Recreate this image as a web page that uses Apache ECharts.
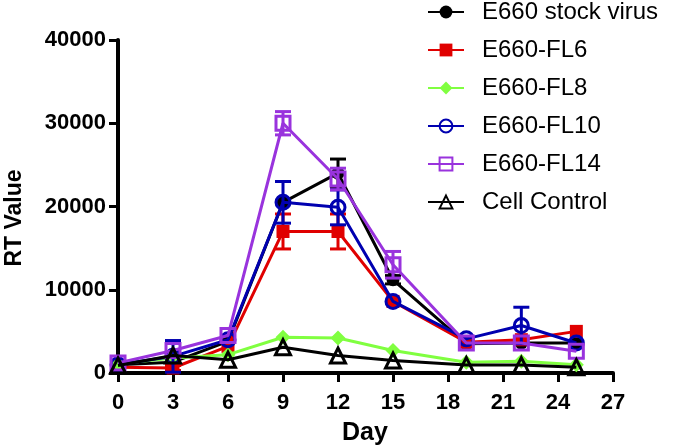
<!DOCTYPE html>
<html><head><meta charset="utf-8">
<script src="https://cdn.jsdelivr.net/npm/echarts@6/dist/echarts.min.js"></script>
<style>html,body{margin:0;padding:0;background:#fff}#c{width:680px;height:448px}</style>
</head><body><div id="c"></div>
<script>
var days = [0, 3, 6, 9, 12, 15, 19, 22, 25];
var xTicks = [0, 3, 6, 9, 12, 15, 18, 21, 24, 27];
var yTicks = [0, 10000, 20000, 30000, 40000];
var seriesNames = ['E660 stock virus', 'E660-FL6', 'E660-FL8', 'E660-FL10', 'E660-FL14', 'Cell Control'];
var stock = [1000, 1300, 3800, 20500, 24000, 11200, 3500, 3600, 3600];
var stockErr = [0, 0, 0, 0, 1700, 500, 0, 0, 0];
var fl6 = [700, 600, 3200, 17000, 17000, 8600, 3700, 4000, 5000];
var fl6Err = [0, 300, 0, 2100, 2100, 0, 0, 0, 0];
var fl8 = [1100, 1800, 2200, 4300, 4200, 2700, 1300, 1400, 1000];
var fl8Err = [0, 0, 0, 0, 0, 0, 0, 0, 0];
var fl10 = [1000, 2000, 4000, 20500, 19900, 8600, 4100, 5700, 3600];
var fl10Err = [0, 1900, 0, 2500, 2100, 0, 0, 2200, 0];
var fl14 = [1200, 2700, 4500, 30000, 23300, 13000, 3600, 3600, 2600];
var fl14Err = [0, 0, 0, 1400, 1300, 1600, 0, 0, 0];
var cell = [900, 2100, 1600, 3100, 2100, 1500, 950, 950, 700];
var cellErr = [0, 0, 0, 0, 0, 0, 0, 0, 0];

var values = [stock, fl6, fl8, fl10, fl14, cell];
var errs = [stockErr, fl6Err, fl8Err, fl10Err, fl14Err, cellErr];
var colors = ['#000000', '#e00000', '#80ff40', '#0000b0', '#9933dd', '#000000'];
var symbols = ['circle', 'rect', 'diamond', 'circle', 'rect', 'triangle'];
var symSizes = [13, 13, 15, 14, 14, 15];
var hollow = [false, false, false, true, true, true];

var series = [];
values.forEach(function (vals, i) {
  var eData = [];
  days.forEach(function (d, j) { if (errs[i][j] > 0) eData.push([d, vals[j], errs[i][j]]); });
  series.push({
    type: 'custom', name: seriesNames[i] + ' err', z: 2 + i,
    data: eData, silent: true,
    renderItem: function (params, api) {
      var x = api.value(0), y = api.value(1), e = api.value(2);
      var top = api.coord([x, y + e]), bot = api.coord([x, y - e]);
      var w = 8;
      var st = { stroke: colors[i], lineWidth: 3 };
      return { type: 'group', children: [
        { type: 'line', shape: { x1: top[0], y1: top[1], x2: bot[0], y2: bot[1] }, style: st },
        { type: 'line', shape: { x1: top[0] - w, y1: top[1], x2: top[0] + w, y2: top[1] }, style: st },
        { type: 'line', shape: { x1: bot[0] - w, y1: bot[1], x2: bot[0] + w, y2: bot[1] }, style: st }
      ]};
    }
  });
  series.push({
    type: 'line', name: seriesNames[i], z: 2 + i,
    data: days.map(function (d, j) { return [d, vals[j]]; }),
    symbol: symbols[i], symbolSize: symSizes[i], showAllSymbol: true,
    lineStyle: { color: colors[i], width: 3 },
    itemStyle: hollow[i] ? { color: 'rgba(255,255,255,0)', borderColor: colors[i], borderWidth: 3 } : { color: colors[i], borderColor: colors[i], borderWidth: 0 },
    emphasis: { disabled: true }, animation: false
  });
});

var tickFont = { fontFamily: 'Liberation Sans, Arial, sans-serif', fontWeight: 'bold', fontSize: 22, color: '#000' };
var chart = echarts.init(document.getElementById('c'), null, { renderer: 'canvas' });
chart.setOption({
  animation: false,
  backgroundColor: '#fff',
  grid: { left: 118, right: 67, top: 40, bottom: 75, containLabel: false },
  xAxis: {
    type: 'value', min: xTicks[0], max: xTicks[xTicks.length - 1], interval: 3,
    axisLine: { lineStyle: { color: '#000', width: 4 } },
    axisTick: { show: true, inside: false, length: 9, lineStyle: { color: '#000', width: 3 } },
    axisLabel: Object.assign({ margin: 19, formatter: function (v) { return String(v); } }, tickFont),
    splitLine: { show: false }
  },
  yAxis: {
    type: 'value', min: yTicks[0], max: yTicks[yTicks.length - 1], interval: 10000,
    axisLine: { show: true, lineStyle: { color: '#000', width: 4 } },
    axisTick: { show: true, inside: false, length: 9, lineStyle: { color: '#000', width: 3 } },
    axisLabel: Object.assign({ margin: 12, formatter: function (v) { return String(v); } }, tickFont),
    splitLine: { show: false }
  },
  legend: {
    data: seriesNames, orient: 'vertical', left: 427, top: 0, padding: 0,
    itemWidth: 36, itemHeight: 16, itemGap: 14,
    textStyle: { fontFamily: 'Liberation Sans, Arial, sans-serif', fontSize: 24, color: '#000', padding: [0, 0, 0, 13] },
    selectedMode: false
  },
  graphic: [
    { type: 'text', x: 365, y: 433, style: { text: 'Day', align: 'center', verticalAlign: 'middle', font: 'bold 25px "Liberation Sans", Arial, sans-serif', fill: '#000' } },
    { type: 'text', x: 15, y: 218, rotation: Math.PI / 2, style: { text: 'RT Value', align: 'center', verticalAlign: 'middle', font: 'bold 23px "Liberation Sans", Arial, sans-serif', fill: '#000' } }
  ],
  series: series
});
</script></body></html>
